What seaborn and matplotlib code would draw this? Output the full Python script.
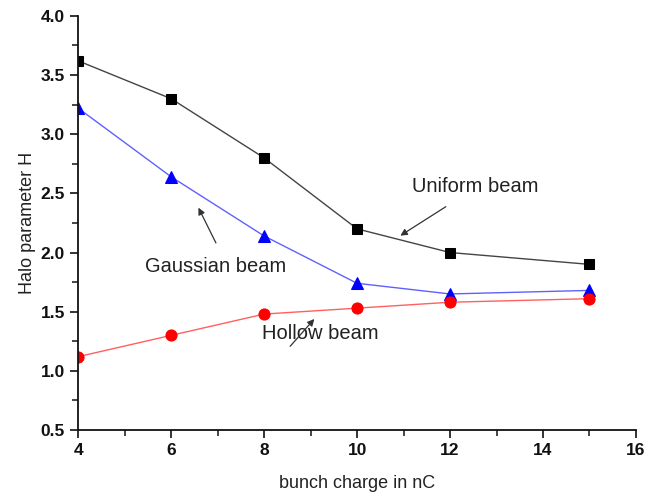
import pandas as pd
import numpy as np
import matplotlib.pyplot as plt
import seaborn as sns
from matplotlib.ticker import MultipleLocator

# data
charge = [4, 6, 8, 10, 12, 15]
uniform = [3.62, 3.30, 2.80, 2.20, 2.00, 1.90]
gaussian = [3.22, 2.64, 2.14, 1.74, 1.65, 1.68]
hollow = [1.12, 1.30, 1.48, 1.53, 1.58, 1.61]

sns.set_style("ticks")
plt.rcParams['font.family'] = ['Liberation Sans', 'DejaVu Sans']

fig = plt.figure(figsize=(6.57, 4.96), dpi=100)
ax = fig.add_axes([0.119, 0.133, 0.849, 0.835])

#Draw the three beams
sns.lineplot(x=charge, y=uniform, ax=ax, color='#444444', lw=1,
             marker='s', markersize=7, markerfacecolor='black',
             markeredgecolor='black')
sns.lineplot(x=charge, y=gaussian, ax=ax, color='#6060ff', lw=1,
             marker='^', markersize=9, markerfacecolor='blue',
             markeredgecolor='blue')
sns.lineplot(x=charge, y=hollow, ax=ax, color='#ff6060', lw=1,
             marker='o', markersize=8, markerfacecolor='red',
             markeredgecolor='red')

ax.set_xlim(4, 16)
ax.set_ylim(0.5, 4.0)
ax.xaxis.set_major_locator(MultipleLocator(2))
ax.xaxis.set_minor_locator(MultipleLocator(1))
ax.yaxis.set_major_locator(MultipleLocator(0.5))
ax.yaxis.set_minor_locator(MultipleLocator(0.25))
ax.tick_params(which='major', direction='out', length=6, width=1.2, labelsize=12.5, colors='#111111')
ax.tick_params(which='minor', direction='out', length=4, width=1.2)
for lab in ax.get_xticklabels() + ax.get_yticklabels():
    lab.set_fontweight('bold')
sns.despine(ax=ax)
for s in ['left', 'bottom']:
    ax.spines[s].set_linewidth(1.3)
    ax.spines[s].set_color('#111111')

ax.set_xlabel("bunch charge in nC", fontsize=13, labelpad=12, color='#222222')
ax.set_ylabel("Halo parameter H", fontsize=13, labelpad=3, color='#222222')

#annotations with arrows
arr = dict(arrowstyle='-|>', color='#333333', lw=0.9, mutation_scale=10)
ax.text(12.54, 2.555, "Uniform beam", fontsize=14.5, ha='center', va='center', color='#222222')
ax.annotate("", xy=(10.88, 2.13), xytext=(11.96, 2.40), arrowprops=arr)
ax.text(6.95, 1.88, "Gaussian beam", fontsize=14.5, ha='center', va='center', color='#222222')
ax.annotate("", xy=(6.56, 2.40), xytext=(6.99, 2.06), arrowprops=arr)
ax.text(9.2, 1.32, "Hollow beam", fontsize=14.5, ha='center', va='center', color='#222222')
ax.annotate("", xy=(9.12, 1.456), xytext=(8.52, 1.19), arrowprops=arr)

plt.savefig('out.png', dpi=100)
plt.close('all')
